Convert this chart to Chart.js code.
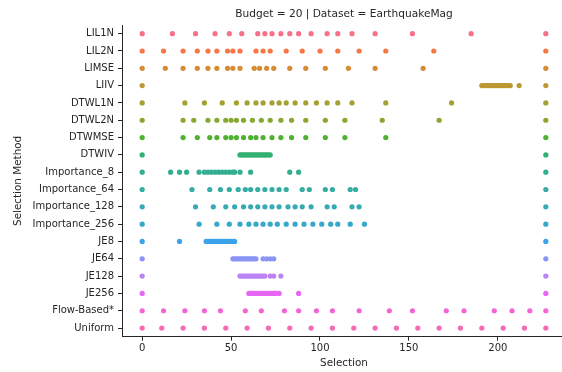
<!DOCTYPE html>
<html>
<head>
<meta charset="utf-8">
<script src="https://cdn.jsdelivr.net/npm/chart.js@4.4.1/dist/chart.umd.min.js"></script>
<style>
  html, body { margin: 0; padding: 0; background: #fff; overflow: hidden; }
  #wrap { width: 570px; height: 372px; }
</style>
</head>
<body>
<div id="wrap"><canvas id="strip" width="570" height="372"></canvas></div>
<script>
(function () {
    'use strict';

    // selection indices picked by each method (budget = 20)
    var METHODS = ['LIL1N', 'LIL2N', 'LIMSE', 'LIIV', 'DTWL1N', 'DTWL2N', 'DTWMSE', 'DTWIV',
        'Importance_8', 'Importance_64', 'Importance_128', 'Importance_256',
        'JE8', 'JE64', 'JE128', 'JE256', 'Flow-Based*', 'Uniform'];

    var LIL1N = [0, 17, 30, 41, 49, 56, 65, 69, 73, 78, 83, 88, 95, 104, 110, 118, 131, 152, 185, 227];
    var LIL2N = [0, 12, 23, 31, 37, 42, 48, 51, 55, 64, 68, 72, 81, 90, 100, 110, 122, 137, 164, 227];
    var LIMSE = [0, 13, 23, 31, 37, 42, 48, 51, 55, 63, 66, 70, 74, 83, 92, 103, 116, 131, 158, 227];
    var LIIV = [0, 191, 192, 193, 194, 195, 196, 197, 198, 199, 200, 201, 202, 203, 204, 205, 206, 207, 212, 227];
    var DTWL1N = [0, 24, 35, 45, 53, 59, 64, 68, 73, 77, 81, 86, 92, 98, 104, 110, 118, 137, 174, 227];
    var DTWL2N = [0, 23, 29, 37, 42, 47, 50, 53, 57, 62, 67, 72, 78, 84, 92, 103, 114, 135, 167, 227];
    var DTWMSE = [0, 23, 31, 38, 42, 47, 50, 53, 57, 61, 64, 68, 73, 78, 84, 92, 103, 114, 137, 227];
    var DTWIV = [0, 55, 56, 57, 58, 59, 60, 61, 62, 63, 64, 65, 66, 67, 68, 69, 70, 71, 72, 227];
    var IMP_8 = [0, 16, 21, 25, 32, 35, 37, 39, 41, 43, 45, 47, 49, 51, 52, 55, 61, 83, 88, 227];
    var IMP_64 = [0, 28, 38, 44, 49, 54, 58, 61, 65, 69, 73, 77, 81, 90, 94, 103, 107, 117, 120, 227];
    var IMP_128 = [0, 30, 40, 47, 52, 57, 61, 65, 69, 73, 77, 82, 86, 90, 95, 104, 108, 118, 122, 227];
    var IMP_256 = [0, 32, 42, 49, 55, 60, 64, 68, 72, 76, 81, 86, 91, 96, 101, 106, 110, 117, 125, 227];
    var JE8 = [0, 21, 36, 37, 38, 39, 40, 41, 42, 43, 44, 45, 46, 47, 48, 49, 50, 51, 52, 227];
    var JE64 = [0, 51, 52, 53, 54, 55, 56, 57, 58, 59, 60, 61, 62, 63, 64, 68, 70, 72, 74, 227];
    var JE128 = [0, 55, 56, 57, 58, 59, 60, 61, 62, 63, 64, 65, 66, 67, 68, 69, 72, 74, 78, 227];
    var JE256 = [0, 60, 61, 62, 63, 64, 65, 66, 67, 68, 69, 70, 71, 72, 73, 74, 75, 77, 88, 227];
    var FLOW = [0, 12, 24, 35, 44, 58, 67, 80, 88, 98, 107, 122, 139, 152, 171, 181, 198, 208, 218, 227];
    var UNIFORM = [0, 11, 23, 35, 47, 59, 71, 83, 95, 107, 119, 131, 143, 155, 167, 179, 191, 203, 215, 227];

    var SERIES = [LIL1N, LIL2N, LIMSE, LIIV, DTWL1N, DTWL2N, DTWMSE, DTWIV,
        IMP_8, IMP_64, IMP_128, IMP_256, JE8, JE64, JE128, JE256, FLOW, UNIFORM];

    var X_TICKS = [0, 50, 100, 150, 200];
    var X_MIN = -11.35, X_MAX = 238.35;

    var TXT = '#262626';
    var FONT = 'DejaVu Sans';

    // ------------------------------------------------------------------
    // husl palette (same recipe as seaborn: h=.01, s=.9, l=.65)
    // ------------------------------------------------------------------
    var M = [[3.2406, -1.5372, -0.4986], [-0.9689, 1.8758, 0.0415], [0.0557, -0.2040, 1.0570]];
    var REF_U = 0.19784, REF_V = 0.46834, LAB_E = 0.008856, LAB_K = 903.3;

    function maxChroma(L, H) {
        var hrad = H / 180 * Math.PI;
        var sinH = Math.sin(hrad), cosH = Math.cos(hrad);
        var sub1 = Math.pow(L + 16, 3) / 1560896;
        var sub2 = sub1 > LAB_E ? sub1 : L / LAB_K;
        var result = Infinity;
        M.forEach(function (r) {
            var top = (0.99915 * r[0] + 1.05122 * r[1] + 1.14460 * r[2]) * sub2;
            var rb = 0.86330 * r[2] - 0.17266 * r[1];
            var lb = 0.12949 * r[2] - 0.38848 * r[0];
            var bottom = (rb * sinH + lb * cosH) * sub2;
            [0, 1].forEach(function (t) {
                var C = L * (top - 1.05122 * t) / (bottom + 0.17266 * sinH * t);
                if (C > 0 && C < result) result = C;
            });
        });
        return result;
    }

    function fromLinear(c) {
        return c <= 0.0031308 ? 12.92 * c : 1.055 * Math.pow(c, 1 / 2.4) - 0.055;
    }

    function huslToHex(H, S, L) {
        var C = maxChroma(L, H) / 100 * S;
        var hrad = H / 180 * Math.PI;
        var U = Math.cos(hrad) * C, V = Math.sin(hrad) * C;
        var t = (L + 16) / 116;
        var varY = Math.pow(t, 3) > LAB_E ? Math.pow(t, 3) : (116 * t - 16) / LAB_K;
        var varU = U / (13 * L) + REF_U;
        var varV = V / (13 * L) + REF_V;
        var Y = varY;
        var X = -(9 * Y * varU) / ((varU - 4) * varV - varU * varV);
        var Z = (9 * Y - 15 * varV * Y - varV * X) / (3 * varV);
        return '#' + M.map(function (r) {
            var c = fromLinear(r[0] * X + r[1] * Y + r[2] * Z);
            c = Math.max(0, Math.min(1, c));
            var s = Math.round(c * 255).toString(16);
            return s.length < 2 ? '0' + s : s;
        }).join('');
    }

    function huslPalette(n) {
        var out = [];
        for (var i = 0; i < n; i++) {
            var h = ((i / n) + 0.01) % 1;
            out.push(huslToHex(h * 359, 0.9 * 99, 0.65 * 99));
        }
        return out;
    }

    var palette = huslPalette(METHODS.length);

    var datasets = SERIES.map(function (vals, row) {
        return {
            label: METHODS[row],
            data: vals.map(function (v) { return { x: v, y: row }; }),
            backgroundColor: palette[row],
            borderWidth: 0,
            pointRadius: 2.6,
            pointHoverRadius: 2.6
        };
    });

    var tickFont = { family: FONT, size: 10 };

    new Chart(document.getElementById('strip'), {
        type: 'scatter',
        data: { datasets: datasets },
        options: {
            responsive: false,
            animation: false,
            layout: { padding: { left: 0, right: 4, top: 0, bottom: 0 } },
            plugins: {
                legend: { display: false },
                tooltip: { enabled: false },
                title: {
                    display: true,
                    text: 'Budget = 20 | Dataset = EarthquakeMag',
                    fullSize: false,
                    color: TXT,
                    font: { family: FONT, size: 10.6, weight: 'normal', lineHeight: 1.2 },
                    padding: { top: 8, bottom: 4.3 }
                }
            },
            scales: {
                x: {
                    type: 'linear',
                    min: X_MIN,
                    max: X_MAX,
                    afterBuildTicks: function (scale) {
                        scale.ticks = X_TICKS.map(function (v) { return { value: v }; });
                    },
                    afterFit: function (scale) { scale.height = 35.3; },
                    ticks: { color: TXT, font: tickFont, padding: 2, maxRotation: 0 },
                    grid: { display: true, drawOnChartArea: false, drawTicks: true, tickLength: 4, color: TXT, lineWidth: 1 },
                    border: { display: true, color: TXT, width: 1 },
                    title: {
                        display: true, text: 'Selection', color: TXT,
                        font: { family: FONT, size: 10.4 }, padding: { top: 0, bottom: 2 }
                    }
                },
                y: {
                    type: 'linear',
                    reverse: true,
                    min: -0.5,
                    max: METHODS.length - 0.5,
                    afterBuildTicks: function (scale) {
                        scale.ticks = METHODS.map(function (_, i) { return { value: i }; });
                    },
                    afterFit: function (scale) { scale.width = 122; },
                    ticks: {
                        color: TXT, font: tickFont, padding: 4,
                        callback: function (v) { return METHODS[v]; }
                    },
                    grid: { display: true, drawOnChartArea: false, drawTicks: true, tickLength: 4, color: TXT, lineWidth: 1 },
                    border: { display: true, color: TXT, width: 1 },
                    title: {
                        display: true, text: 'Selection Method', color: TXT,
                        font: { family: FONT, size: 10.4 }, padding: { top: 12, bottom: 0 }
                    }
                }
            }
        }
    });
})();
</script>
</body>
</html>
